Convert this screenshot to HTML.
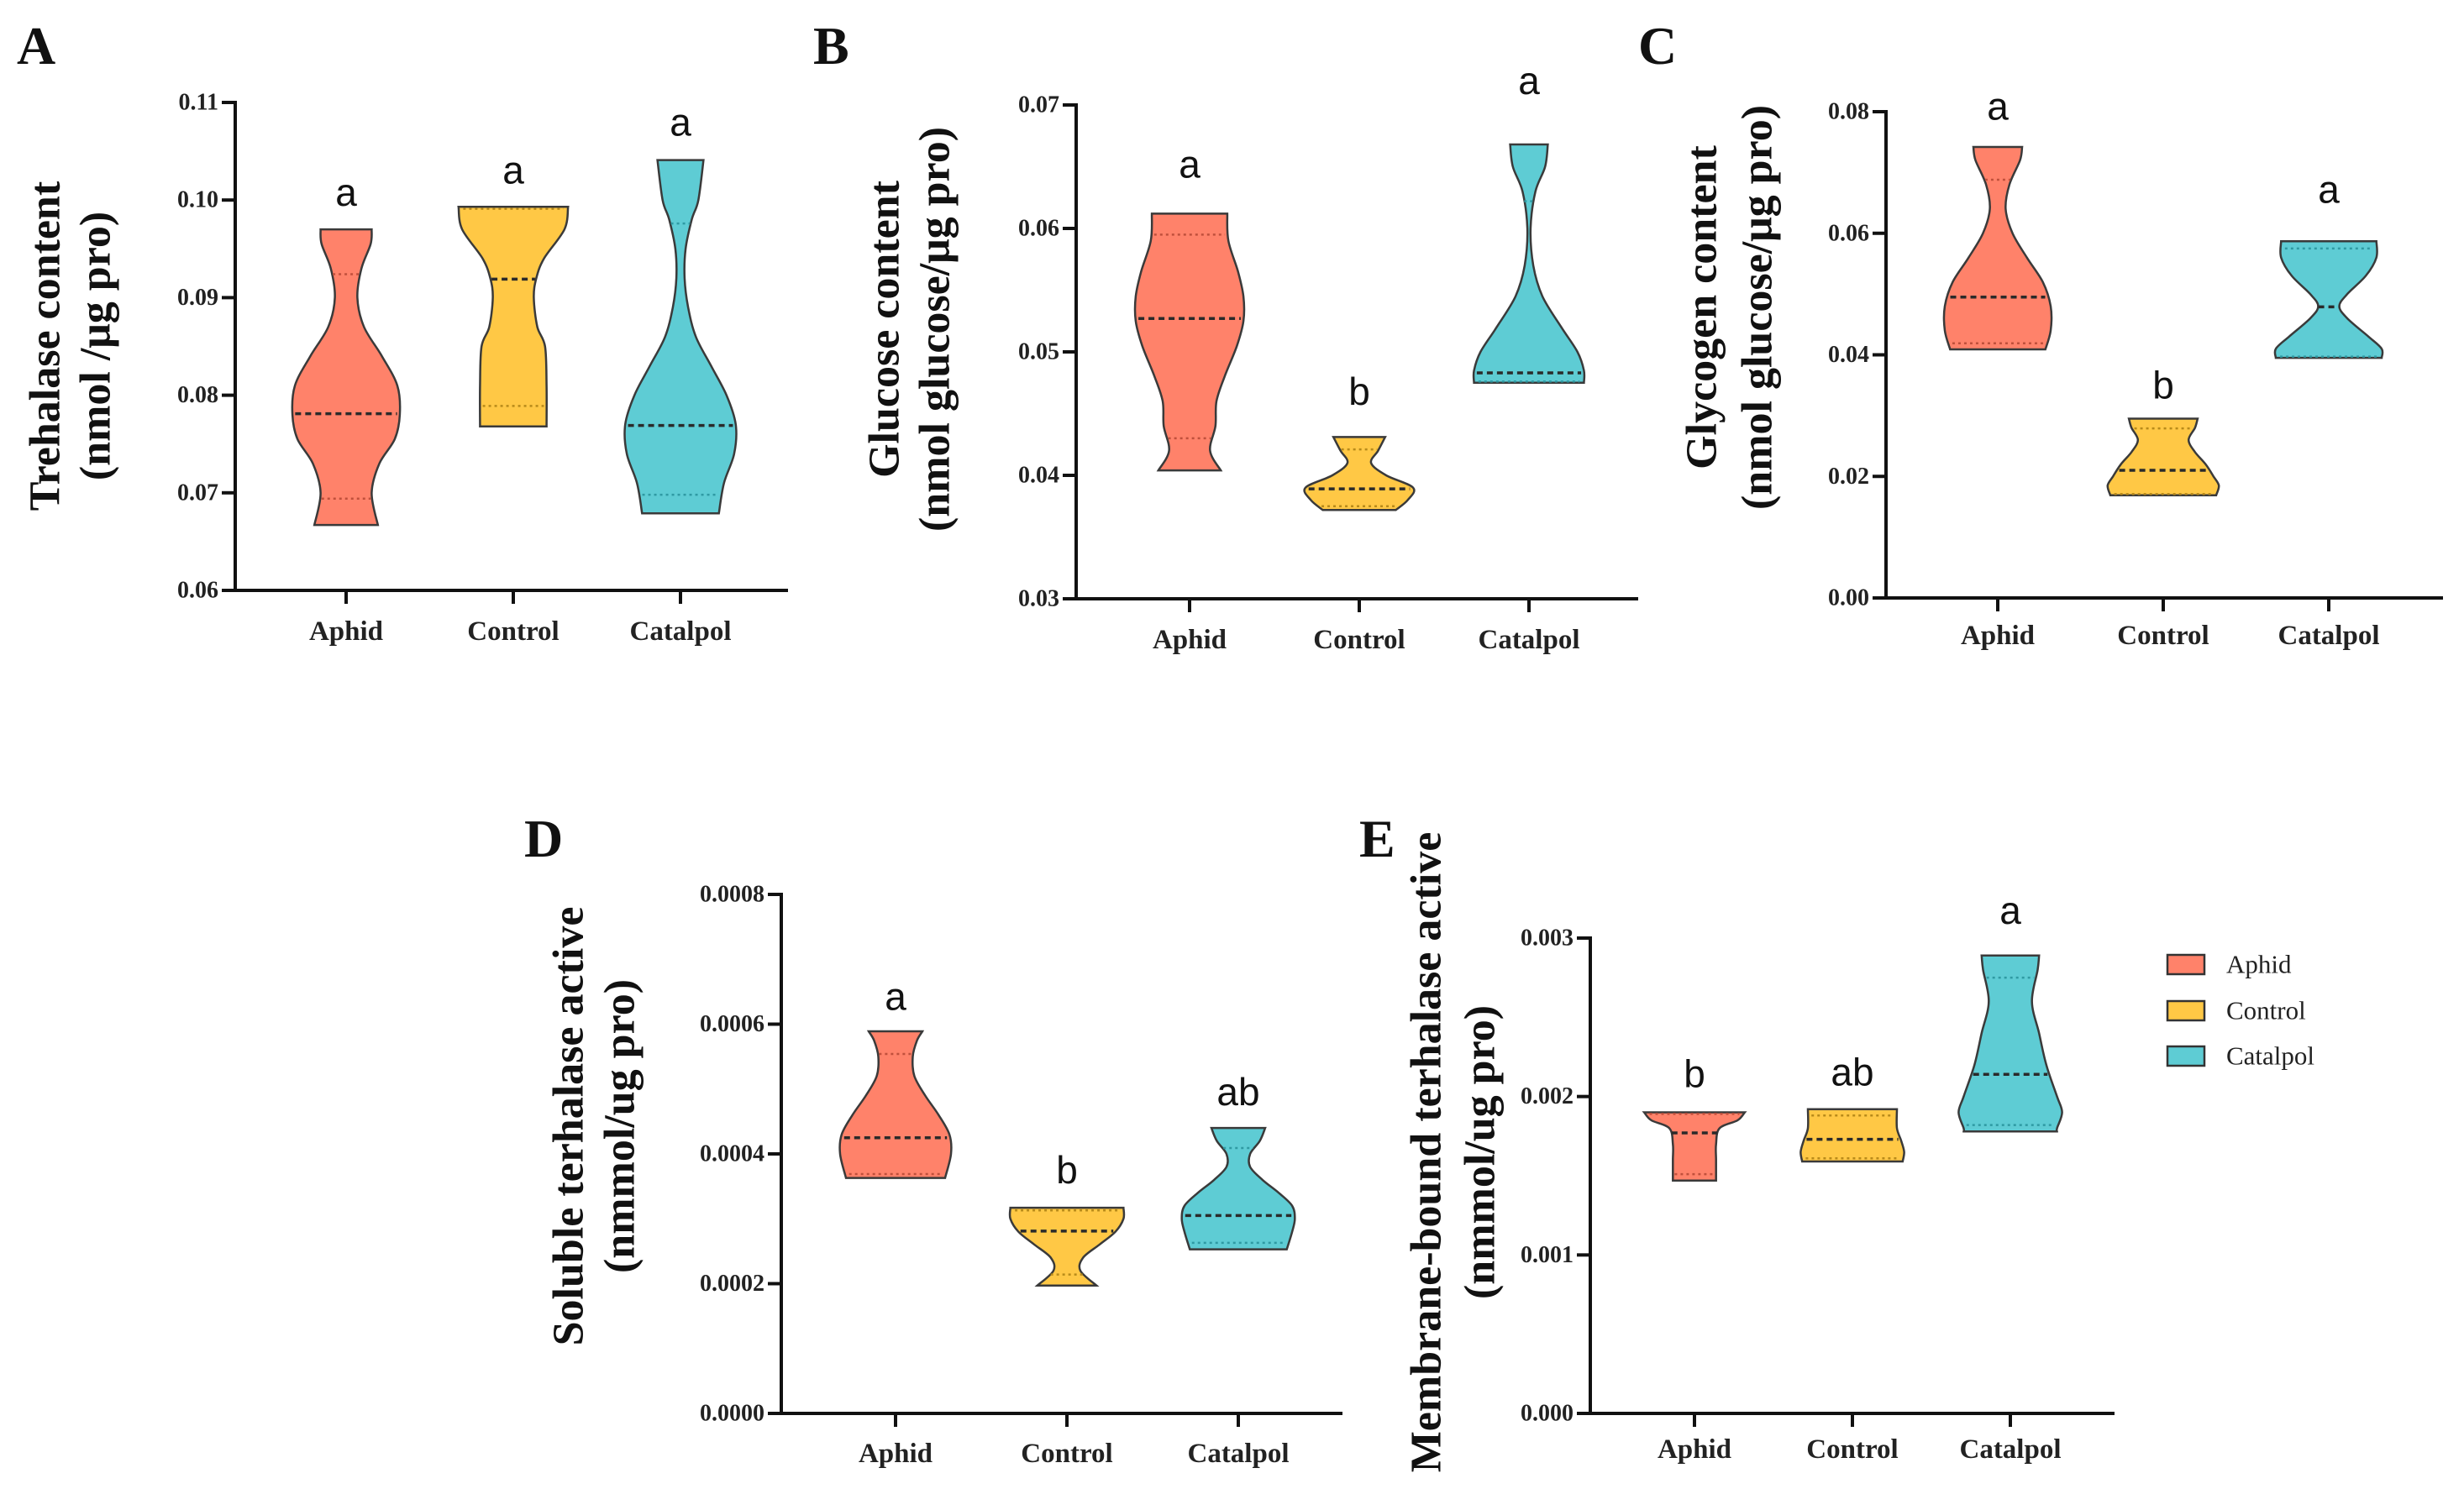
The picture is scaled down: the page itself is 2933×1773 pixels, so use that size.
<!DOCTYPE html>
<html><head><meta charset="utf-8">
<style>
html,body{margin:0;padding:0;background:#fff;}
svg{display:block;}
.tick{font-family:"Liberation Serif",serif;font-weight:bold;font-size:28px;fill:#222;}
.cat{font-family:"Liberation Serif",serif;font-weight:bold;font-size:33px;fill:#222;}
.ttl{font-family:"Liberation Serif",serif;font-weight:bold;font-size:52px;fill:#111;}
.pl{font-family:"Liberation Serif",serif;font-weight:bold;font-size:64px;fill:#111;}
.sig{font-family:"Liberation Sans",sans-serif;font-size:46px;fill:#111;}
.leg{font-family:"Liberation Serif",serif;font-size:31px;fill:#222;}
</style></head>
<body>
<svg id="fig" width="2933" height="1773" viewBox="0 0 2933 1773" xmlns="http://www.w3.org/2000/svg"></svg>
<script>
const categories=['Aphid','Control','Catalpol'];
const colors=['#FF826A','#FFC845','#5ECCD4'];
const quartColors=['#c0503c','#b88a1a','#2f9aa3'];

// Panel A - trehalase content
const ticksA=['0.06','0.07','0.08','0.09','0.10','0.11'];
const minA=[0.0667,0.0768,0.0679];
const maxA=[0.097,0.0993,0.1041];
const medA=[0.0781,0.0919,0.0769];
const q1A=[0.0694,0.0789,0.0698];
const q3A=[0.0924,0.0991,0.0976];
const sigA=['a','a','a'];
const sigYA=[0.0994,0.1017,0.1066];
const profValA=[[0.097,0.0955,0.093,0.090,0.087,0.084,0.081,0.078,0.0755,0.073,0.070,0.0667],
 [0.0993,0.097,0.094,0.092,0.090,0.087,0.085,0.081,0.0768],
 [0.1041,0.100,0.098,0.095,0.092,0.089,0.086,0.083,0.080,0.077,0.074,0.071,0.0679]];
const profWA=[[50,48,30,22,35,70,100,105,95,65,50,62],
 [107,100,60,45,40,47,62,65,65],
 [45,35,22,10,8,15,30,60,90,108,105,85,75]];

// Panel B - glucose content
const ticksB=['0.03','0.04','0.05','0.06','0.07'];
const minB=[0.0404,0.0372,0.0475];
const maxB=[0.0612,0.0431,0.0668];
const medB=[0.0527,0.0389,0.0483];
const q1B=[0.0430,0.0375,0.0476];
const q3B=[0.0595,0.0421,0.0622];
const sigB=['a','b','a'];
const sigYB=[0.0641,0.0457,0.0709];
const profValB=[[0.0612,0.059,0.0565,0.0545,0.0525,0.0505,0.048,0.046,0.044,0.042,0.0404],
 [0.0431,0.042,0.041,0.040,0.039,0.038,0.0372],
 [0.0668,0.065,0.063,0.060,0.057,0.0545,0.052,0.050,0.0485,0.0475]];
const profWB=[[70,72,90,100,100,88,65,50,48,38,58],
 [48,35,22,50,100,90,68],
 [35,30,12,3,8,25,60,90,102,102]];

// Panel C - glycogen content
const ticksC=['0.00','0.02','0.04','0.06','0.08'];
const minC=[0.0409,0.0169,0.0395];
const maxC=[0.0742,0.0295,0.0587];
const medC=[0.0495,0.0210,0.0479];
const q1C=[0.0419,0.0171,0.0397];
const q3C=[0.0688,0.0279,0.0575];
const sigC=['a','b','a'];
const sigYC=[0.0787,0.0328,0.0650];
const profValC=[[0.0742,0.072,0.068,0.064,0.060,0.056,0.052,0.048,0.044,0.0409],
 [0.0295,0.028,0.026,0.024,0.022,0.020,0.0185,0.0169],
 [0.0587,0.056,0.053,0.050,0.048,0.046,0.043,0.041,0.0395]];
const profWC=[[46,42,22,15,28,55,85,100,100,90],
 [65,60,48,60,80,95,105,100],
 [90,90,70,35,20,35,75,100,100]];

// Panel D - soluble trehalase
const ticksD=['0.0000','0.0002','0.0004','0.0006','0.0008'];
const minD=[0.000363,0.000197,0.000253];
const maxD=[0.000589,0.000317,0.00044];
const medD=[0.000425,0.000281,0.000305];
const q1D=[0.000369,0.000214,0.000263];
const q3D=[0.000554,0.000313,0.000409];
const sigD=['a','b','ab'];
const sigYD=[0.000622,0.000355,0.000475];
const profValD=[[0.000589,0.000575,0.00055,0.00052,0.00049,0.00046,0.00043,0.00040,0.000363],
 [0.000317,0.00030,0.00028,0.00026,0.00024,0.00022,0.000197],
 [0.00044,0.00042,0.0004,0.00038,0.00036,0.00034,0.00032,0.0003,0.00028,0.000253]];
const profWD=[[50,40,32,35,55,80,100,103,92],
 [105,105,90,60,30,25,55],
 [50,40,22,22,45,75,100,105,100,90]];

// Panel E - membrane-bound trehalase
const ticksE=['0.000','0.001','0.002','0.003'];
const minE=[0.00147,0.00159,0.00178];
const maxE=[0.0019,0.00192,0.00289];
const medE=[0.00177,0.00173,0.00214];
const q1E=[0.00151,0.00161,0.00182];
const q3E=[0.00189,0.00188,0.00275];
const sigE=['b','ab','a'];
const sigYE=[0.00206,0.00207,0.00309];
const profValE=[[0.0019,0.00185,0.0018,0.0017,0.0016,0.0015,0.00147],
 [0.00192,0.0018,0.00172,0.00165,0.00159],
 [0.00289,0.0028,0.0026,0.0024,0.0022,0.0020,0.0019,0.0018,0.00178]];
const profWE=[[70,60,35,30,30,30,30],
 [62,62,68,72,70],
 [40,38,30,40,50,65,72,65,65]];

const NS='http://www.w3.org/2000/svg';
const svg=document.getElementById('fig');
function mk(tag,attrs,parent){const e=document.createElementNS(NS,tag);for(const k in attrs)e.setAttribute(k,attrs[k]);(parent||svg).appendChild(e);return e;}

const panels=[
 {id:'a',letter:'A',lx:20,ly:76,x0:280,yb:703,yt:122,xe:938,c0:412,sp:199,ws:0.609,vmin:0.06,vmax:0.11,ticks:ticksA,min:minA,max:maxA,med:medA,q1:q1A,q3:q3A,sig:sigA,sigY:sigYA,pv:profValA,pw:profWA,
  t1:'Trehalase content',t2:'(nmol /μg pro)',tx1:54,tx2:114,ty:412,catY:762},
 {id:'b',letter:'B',lx:968,ly:76,x0:1281,yb:713,yt:125,xe:1950,c0:1416,sp:202,ws:0.641,vmin:0.03,vmax:0.07,ticks:ticksB,min:minB,max:maxB,med:medB,q1:q1B,q3:q3B,sig:sigB,sigY:sigYB,pv:profValB,pw:profWB,
  t1:'Glucose content',t2:'(nmol glucose/μg pro)',tx1:1053,tx2:1113,ty:392,catY:772},
 {id:'c',letter:'C',lx:1950,ly:76,x0:2245,yb:712,yt:133,xe:2908,c0:2378,sp:197,ws:0.630,vmin:0,vmax:0.08,ticks:ticksC,min:minC,max:maxC,med:medC,q1:q1C,q3:q3C,sig:sigC,sigY:sigYC,pv:profValC,pw:profWC,
  t1:'Glycogen content',t2:'(nmol glucose/μg pro)',tx1:2026,tx2:2092,ty:366,catY:767},
 {id:'d',letter:'D',lx:624,ly:1020,x0:930,yb:1683,yt:1065,xe:1598,c0:1066,sp:204,ws:0.641,vmin:0,vmax:0.0008,ticks:ticksD,min:minD,max:maxD,med:medD,q1:q1D,q3:q3D,sig:sigD,sigY:sigYD,pv:profValD,pw:profWD,
  t1:'Soluble terhalase active',t2:'(nmmol/ug pro)',tx1:677,tx2:738,ty:1341,catY:1741},
 {id:'e',letter:'E',lx:1618,ly:1020,x0:1893,yb:1683,yt:1117,xe:2517,c0:2017,sp:188,ws:0.855,vmin:0,vmax:0.003,ticks:ticksE,min:minE,max:maxE,med:medE,q1:q1E,q3:q3E,sig:sigE,sigY:sigYE,pv:profValE,pw:profWE,
  t1:'Membrane-bound terhalase active',t2:'(nmmol/ug pro)',tx1:1698,tx2:1762,ty:1372,catY:1736}
];

function smoothSide(pts){
 let d='';
 for(let i=0;i<pts.length-1;i++){
  const p0=pts[Math.max(0,i-1)],p1=pts[i],p2=pts[i+1],p3=pts[Math.min(pts.length-1,i+2)];
  const c1=[p1[0]+(p2[0]-p0[0])/6,p1[1]+(p2[1]-p0[1])/6];
  const c2=[p2[0]-(p3[0]-p1[0])/6,p2[1]-(p3[1]-p1[1])/6];
  d+=` C${c1[0].toFixed(1)},${c1[1].toFixed(1)} ${c2[0].toFixed(1)},${c2[1].toFixed(1)} ${p2[0].toFixed(1)},${p2[1].toFixed(1)}`;
 }
 return d;
}

panels.forEach(p=>{
 const g=mk('g',{});
 
 
 const Y=v=>p.yb+(v-p.vmin)/(p.vmax-p.vmin)*(p.yt-p.yb);
 const X=i=>p.c0+i*p.sp;
 const pl=mk('text',{x:p.lx,y:p.ly,class:'pl'},g);pl.textContent=p.letter;
 
 
 const t1=mk('text',{x:p.tx1,y:p.ty,class:'ttl','text-anchor':'middle','dominant-baseline':'central',transform:`rotate(-90 ${p.tx1} ${p.ty})`},g);t1.textContent=p.t1;
 
 
 const t2=mk('text',{x:p.tx2,y:p.ty,class:'ttl','text-anchor':'middle','dominant-baseline':'central',transform:`rotate(-90 ${p.tx2} ${p.ty})`},g);t2.textContent=p.t2;
 
 
 for(let i=0;i<3;i++){
  const cx=X(i);
  const right=p.pv[i].map((v,k)=>[cx+p.pw[i][k]*p.ws,Y(v)]);
  const left=p.pv[i].map((v,k)=>[cx-p.pw[i][k]*p.ws,Y(v)]).reverse();
  let d=`M${right[0][0].toFixed(1)},${right[0][1].toFixed(1)}`+smoothSide(right)+` L${left[0][0].toFixed(1)},${left[0][1].toFixed(1)}`+smoothSide(left)+' Z';
  const v=mk('path',{d:d,fill:colors[i],stroke:'#3a3a3a','stroke-width':2.5},g);
  
  
  const wAt=val=>{const vs=p.pv[i],ws=p.pw[i];for(let k=0;k<vs.length-1;k++){if(val<=vs[k]&&val>=vs[k+1]){const f=(vs[k]-val)/(vs[k]-vs[k+1]);return (ws[k]+f*(ws[k+1]-ws[k]))*p.ws;}}return ws[ws.length-1]*p.ws;};
  [[p.q1[i],'quartile-low'],[p.q3[i],'quartile-high']].forEach(([q,n])=>{
   const w=wAt(q)*0.92;
   const l=mk('line',{x1:cx-w,x2:cx+w,y1:Y(q),y2:Y(q),stroke:quartColors[i],'stroke-width':2.5,'stroke-dasharray':'3 4'},g);
   
   
  });
  const wm=wAt(p.med[i])*0.95;
  const m=mk('line',{x1:cx-wm,x2:cx+wm,y1:Y(p.med[i]),y2:Y(p.med[i]),stroke:'#2a2a2a','stroke-width':3.5,'stroke-dasharray':'7 5'},g);
  
  
  const s=mk('text',{x:cx,y:Y(p.sigY[i]),class:'sig','text-anchor':'middle'},g);s.textContent=p.sig[i];
  
  
  mk('line',{x1:cx,x2:cx,y1:p.yb,y2:p.yb+16,stroke:'#111','stroke-width':4},g);
  const c=mk('text',{x:cx,y:p.catY,class:'cat','text-anchor':'middle'},g);c.textContent=categories[i];
  
  
 }
 const ya=mk('line',{x1:p.x0,x2:p.x0,y1:p.yt-2,y2:p.yb+2,stroke:'#111','stroke-width':4},g);
 
 
 const xa=mk('line',{x1:p.x0-2,x2:p.xe,y1:p.yb,y2:p.yb,stroke:'#111','stroke-width':4},g);
 
 
 p.ticks.forEach(t=>{
  const y=Y(parseFloat(t));
  mk('line',{x1:p.x0-16,x2:p.x0,y1:y,y2:y,stroke:'#111','stroke-width':4},g);
  const tl=mk('text',{x:p.x0-20,y:y,class:'tick','text-anchor':'end','dominant-baseline':'central'},g);tl.textContent=t;
  
  
 });
});

const lg=mk('g',{});


const legY=[1148,1203,1257];
categories.forEach((c,i)=>{
 mk('rect',{x:2580,y:legY[i]-11,width:44,height:23,fill:colors[i],stroke:'#333','stroke-width':2.5},lg);
 const t=mk('text',{x:2650,y:legY[i],class:'leg','dominant-baseline':'central'},lg);t.textContent=c;
 
 
});
</script>
</body></html>
